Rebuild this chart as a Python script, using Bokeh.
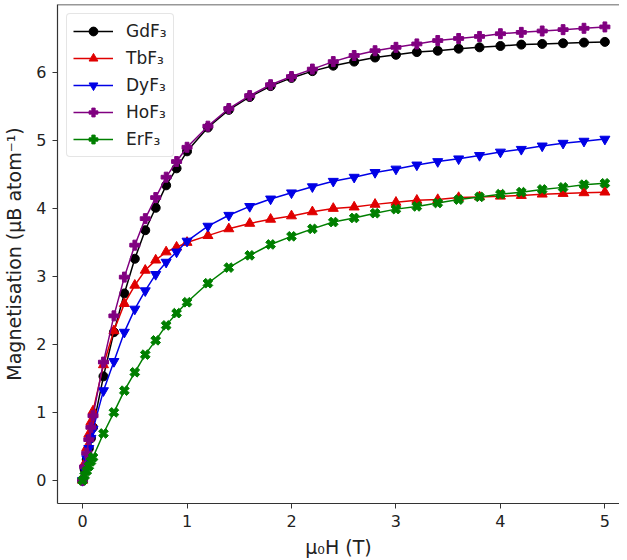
import math
from bokeh.plotting import figure
from bokeh.models import Range1d, Legend, LegendItem, FixedTicker, Span
from bokeh.embed import file_html
from bokeh.resources import INLINE

# Field values (T)
field = [0, 0.02, 0.04, 0.06, 0.08, 0.1, 0.2, 0.3, 0.4, 0.5, 0.6, 0.7, 0.8, 0.9, 1.0,
         1.2, 1.4, 1.6, 1.8, 2.0, 2.2, 2.4, 2.6, 2.8, 3.0, 3.2, 3.4, 3.6, 3.8, 4.0,
         4.2, 4.4, 4.6, 4.8, 5.0]

gdf3 = [0, 0.16, 0.31, 0.47, 0.62, 0.78, 1.53, 2.18, 2.75, 3.26, 3.68, 4.01, 4.34, 4.59, 4.84,
        5.19, 5.45, 5.64, 5.80, 5.92, 6.02, 6.10, 6.16, 6.22, 6.26, 6.30, 6.32, 6.35, 6.37, 6.39,
        6.41, 6.42, 6.43, 6.44, 6.45]
tbf3 = [0, 0.25, 0.48, 0.68, 0.86, 1.02, 1.70, 2.20, 2.60, 2.87, 3.09, 3.24, 3.36, 3.43, 3.50,
        3.60, 3.70, 3.78, 3.84, 3.89, 3.95, 4.00, 4.02, 4.06, 4.09, 4.12, 4.13, 4.16, 4.17, 4.18,
        4.19, 4.21, 4.22, 4.23, 4.24]
dyf3 = [0, 0.16, 0.32, 0.47, 0.62, 0.75, 1.32, 1.75, 2.18, 2.52, 2.79, 3.03, 3.21, 3.36, 3.52,
        3.74, 3.90, 4.03, 4.14, 4.23, 4.32, 4.40, 4.46, 4.53, 4.58, 4.64, 4.69, 4.73, 4.78, 4.83,
        4.87, 4.92, 4.96, 4.99, 5.02]
hof3 = [0, 0.20, 0.40, 0.60, 0.78, 0.95, 1.74, 2.42, 2.99, 3.46, 3.85, 4.16, 4.46, 4.69, 4.90,
        5.21, 5.47, 5.66, 5.82, 5.94, 6.05, 6.16, 6.25, 6.32, 6.37, 6.42, 6.47, 6.50, 6.53, 6.57,
        6.59, 6.61, 6.63, 6.65, 6.67]
erf3 = [0, 0.07, 0.14, 0.21, 0.28, 0.34, 0.69, 1.00, 1.32, 1.59, 1.85, 2.06, 2.28, 2.46, 2.62,
        2.90, 3.13, 3.31, 3.47, 3.59, 3.70, 3.80, 3.86, 3.93, 3.99, 4.03, 4.08, 4.13, 4.17, 4.21,
        4.24, 4.28, 4.31, 4.35, 4.37]

series_names = ["GdF₃", "TbF₃", "DyF₃", "HoF₃", "ErF₃"]
series_values = [gdf3, tbf3, dyf3, hof3, erf3]
colors = ["#000000", "#e00000", "#0000e6", "#800080", "#007f00"]
markers = ["circle", "triangle", "inverted_triangle", "plus", "plus"]
angles = [0, 0, 0, 0, math.pi / 4]
sizes = [9, 10, 10, 10, 10]

x_ticks = [0, 1, 2, 3, 4, 5]
y_ticks = [0, 1, 2, 3, 4, 5, 6]

FONT = "DejaVu Sans"

p = figure(frame_width=562, frame_height=499, output_backend="svg", toolbar_location=None,
           x_range=Range1d(-0.24, 5.14), y_range=Range1d(-0.34, 7.0),
           min_border_left=49, min_border_right=0, min_border_top=4, min_border_bottom=49)
p.background_fill_color = "white"
p.border_fill_color = "white"
p.outline_line_color = None
p.grid.visible = False

top_spine = Span(location=6.997, dimension="width", line_color="#333333", line_width=1.2)
p.add_layout(top_spine)

items = []
for name, vals, c, m, a, s in zip(series_names, series_values, colors, markers, angles, sizes):
    r1 = p.line(field, vals, line_color=c, line_width=1.5)
    r2 = p.scatter(field, vals, marker=m, angle=a, size=s, fill_color=c, line_color=c)
    items.append(LegendItem(label=name, renderers=[r1, r2]))

legend = Legend(items=items, location="top_left")
legend.label_text_font = FONT
legend.label_text_font_size = "17px"
legend.label_text_color = "#222222"
legend.glyph_width = 40
legend.glyph_height = 22
legend.label_height = 22
legend.label_standoff = 13
legend.spacing = 5
legend.padding = 6
legend.margin = 9
legend.border_line_color = "#cccccc"
legend.border_line_width = 1
legend.border_radius = 4
legend.background_fill_alpha = 0.9
p.add_layout(legend)

for ax in [p.xaxis[0], p.yaxis[0]]:
    ax.major_label_text_font = FONT
    ax.major_label_text_font_size = "16px"
    ax.major_label_text_color = "#222222"
    ax.axis_label_text_font = FONT
    ax.axis_label_text_font_size = "19px"
    ax.axis_label_text_font_style = "normal"
    ax.axis_label_text_color = "#222222"
    ax.minor_tick_line_color = None
    ax.major_tick_out = 5
    ax.major_tick_in = 0
    ax.axis_line_color = "#333333"
    ax.axis_line_width = 1.2
    ax.major_tick_line_color = "#333333"

p.xaxis.ticker = FixedTicker(ticks=x_ticks)
p.yaxis.ticker = FixedTicker(ticks=y_ticks)
p.xaxis.axis_label = "μ₀H (T)"
p.yaxis.axis_label = "Magnetisation (μB atom⁻¹)"
p.xaxis.major_label_standoff = 6
p.yaxis.major_label_standoff = 6
p.xaxis.axis_label_standoff = 6
p.yaxis.axis_label_standoff = 8

open("out.html", "w").write(file_html(p, INLINE))
